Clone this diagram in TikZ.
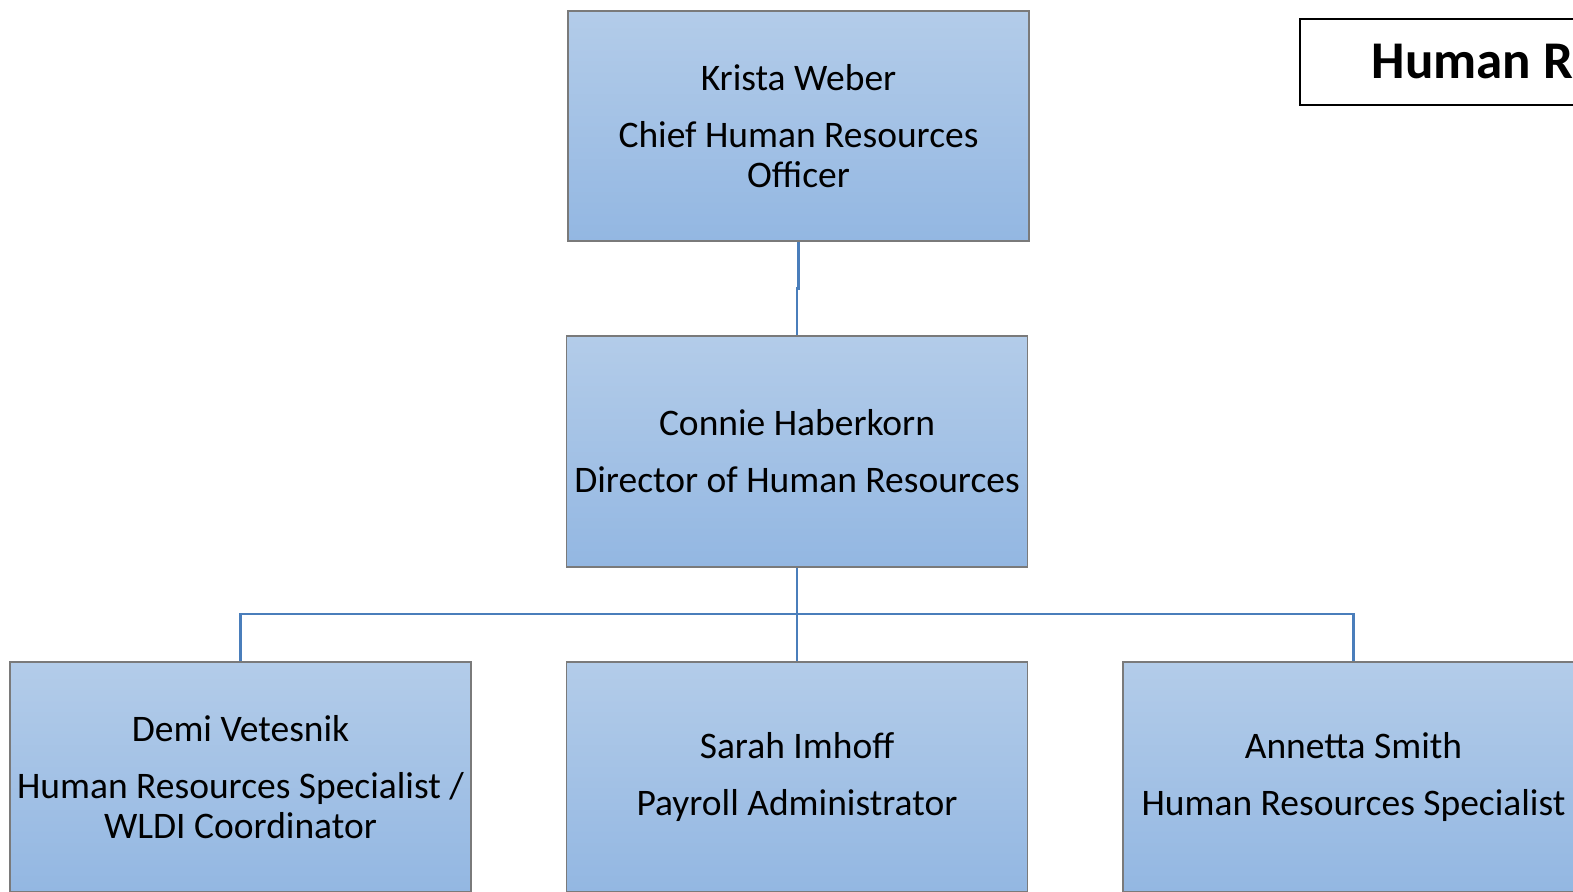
\documentclass[tikz,border=0pt]{standalone}
\usepackage{fontspec}
\setmainfont{Carlito}
\definecolor{topblue}{HTML}{B3CCE9}
\definecolor{botblue}{HTML}{93B7E2}
\definecolor{boxgray}{HTML}{7A7A7A}
\definecolor{connblue}{HTML}{4A7EBB}
\begin{document}
\begin{tikzpicture}[x=1pt,y=-1pt]
\useasboundingbox (0,0) rectangle (1573,891);
\clip (0,0) rectangle (1573,891);
\tikzset{
  box/.style={draw=boxgray, line width=1.2pt, top color=topblue, bottom color=botblue,
    minimum width=461pt, minimum height=230pt, align=center, inner sep=0pt,
    font=\fontsize{37.5}{40}\selectfont},
  conn/.style={draw=connblue, line width=2.4pt},
  titlebox/.style={draw=black, line width=1.5pt, anchor=west, inner xsep=72pt,
    minimum height=86pt, text width=420pt, align=flush left,
    font=\fontsize{53}{56}\selectfont\bfseries}
}
\node[box] (k) at (798.5,126) {Krista Weber\\[17pt]Chief Human Resources\\Officer};
\node[box, minimum height=231pt] (c) at (797,451.5) {Connie Haberkorn\\[17pt]Director of Human Resources};
\node[box] (d) at (240.5,777) {Demi Vetesnik\\[17pt]Human Resources Specialist /\\WLDI Coordinator};
\node[box] (s) at (797,777) {Sarah Imhoff\\[17pt]Payroll Administrator};
\node[box] (a) at (1353.5,777) {Annetta Smith\\[17pt]Human Resources Specialist};
\node[titlebox] (title) at (1299,62) {Human R};
\coordinate (bus) at (797,614);
\draw[conn] (k.south) -- ++(0,47) -| (c.north);
\draw[conn] (c.south) -- (s.north);
\draw[conn] (d.north) |- (bus) -| (a.north);
\end{tikzpicture}
\end{document}
